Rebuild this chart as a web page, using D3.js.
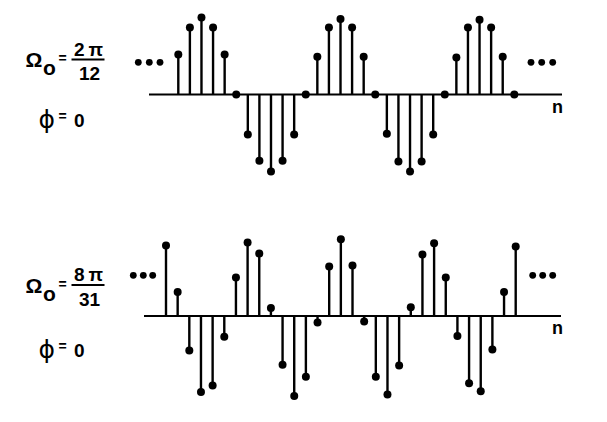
<!DOCTYPE html>
<html><head><meta charset="utf-8">
<script src="https://cdn.jsdelivr.net/npm/d3@7/dist/d3.min.js"></script>
<style>html,body{margin:0;padding:0;background:#fff;}svg{display:block;}</style>
</head><body>
<script>
// Top panel: Omega0 = 2pi/12, phi = 0 (samples n = 1..30)
const topN = d3.range(1, 31);
const topValues = [0.52, 0.87, 1.0, 0.87, 0.52, 0, -0.52, -0.86, -1.0, -0.86, -0.52, 0,
  0.49, 0.87, 0.98, 0.87, 0.49, 0, -0.51, -0.87, -1.0, -0.87, -0.52, 0,
  0.48, 0.87, 0.97, 0.87, 0.49, 0];
// Bottom panel: Omega0 = 8pi/31, phi = 0 (samples n = 0..30)
const bottomN = d3.range(0, 31);
const bottomValues = [0.88, 0.30, -0.43, -0.95, -0.87, -0.26, 0.48, 0.92, 0.78, 0.10,
  -0.61, -1.0, -0.76, -0.08, 0.62, 0.96, 0.63, -0.07, -0.76, -0.98, -0.62, 0.11,
  0.77, 0.91, 0.48, -0.25, -0.84, -0.94, -0.42, 0.30, 0.87];
const topLabel = {num: "2\u2009\u03C0", den: "12", phi: "0"};
const bottomLabel = {num: "8\u2009\u03C0", den: "31", phi: "0"};
const axisName = "n";

const W = 607, H = 422;
const svg = d3.select("body").append("svg").attr("width", W).attr("height", H);
const FONT = "'Liberation Sans', Arial, sans-serif";

function panel(ns, vals, cfg) {
  const x = d3.scaleLinear().domain(cfg.xDomain).range(cfg.xRange);
  const y = d3.scaleLinear().domain([-1, 1]).range(cfg.yRange);
  const g = svg.append("g");
  const y0 = y(0);
  // horizontal axis
  g.append("line").attr("x1", cfg.axisX[0]).attr("x2", cfg.axisX[1])
    .attr("y1", y0).attr("y2", y0).attr("stroke", "#000").attr("stroke-width", 2);
  const data = ns.map((n, i) => ({n, v: vals[i]}));
  g.selectAll("line.stem").data(data).enter().append("line").attr("class", "stem")
    .attr("x1", d => x(d.n)).attr("x2", d => x(d.n))
    .attr("y1", y0).attr("y2", d => y(d.v))
    .attr("stroke", "#000").attr("stroke-width", 2.4);
  g.selectAll("circle.pt").data(data).enter().append("circle").attr("class", "pt")
    .attr("cx", d => x(d.n)).attr("cy", d => y(d.v)).attr("r", 4).attr("fill", "#000");
  // ellipses
  cfg.dotsL.concat(cfg.dotsR).forEach(px => {
    g.append("circle").attr("cx", px).attr("cy", cfg.dotY).attr("r", 3.4).attr("fill", "#000");
  });
  // n label
  g.append("text").attr("x", cfg.nX).attr("y", y0 + 18).attr("font-family", FONT)
    .attr("font-size", 18).attr("font-weight", "bold").text(axisName);
  // Omega label
  const L = cfg.label, b = cfg.labBase;
  g.append("text").attr("x", 25.5).attr("y", b).attr("font-family", FONT)
    .attr("font-size", 21).attr("font-weight", "bold").text("\u03A9");
  g.append("text").attr("x", 43).attr("y", b + 8).attr("font-family", FONT)
    .attr("font-size", 21).attr("font-weight", "bold").text("o");
  g.append("text").attr("x", 58.5).attr("y", b - 4).attr("font-family", FONT)
    .attr("font-size", 14).attr("font-weight", "bold").text("=");
  g.append("text").attr("x", 88.5).attr("y", b - 11.5).attr("text-anchor", "middle").attr("font-family", FONT)
    .attr("font-size", 19).attr("font-weight", "bold").text(L.num);
  g.append("line").attr("x1", 71.5).attr("x2", 104.5).attr("y1", b - 7.5).attr("y2", b - 7.5)
    .attr("stroke", "#000").attr("stroke-width", 1.8);
  g.append("text").attr("x", 89.5).attr("y", b + 13).attr("text-anchor", "middle").attr("font-family", FONT)
    .attr("font-size", 19).attr("font-weight", "bold").text(L.den);
  // phi label
  const pb = cfg.phiBase;
  g.append("text").attr("x", 38.5).attr("y", pb + 1).attr("font-family", "'DejaVu Sans', sans-serif")
    .attr("font-size", 25).text("\u03D5");
  g.append("text").attr("x", 58.5).attr("y", pb - 5.5).attr("font-family", FONT)
    .attr("font-size", 14).attr("font-weight", "bold").text("=");
  g.append("text").attr("x", 74).attr("y", pb).attr("font-family", FONT)
    .attr("font-size", 19).attr("font-weight", "bold").text(L.phi);
}

panel(topN, topValues, {
  xDomain: [1, 30], xRange: [178.3, 514.3], yRange: [171.5, 17.5],
  axisX: [149, 562], dotsL: [138.3, 149.3, 160], dotsR: [531, 541.7, 552.7], dotY: 62.3,
  nX: 552, label: topLabel, labBase: 67, phiBase: 126.7
});
panel(bottomN, bottomValues, {
  xDomain: [0, 30], xRange: [166, 515.7], yRange: [396, 236],
  axisX: [144, 561], dotsL: [133.3, 143.3, 152.7], dotsR: [532.7, 542.7, 552.7], dotY: 275.3,
  nX: 552, label: bottomLabel, labBase: 292.5, phiBase: 356.7
});
</script>
</body></html>
